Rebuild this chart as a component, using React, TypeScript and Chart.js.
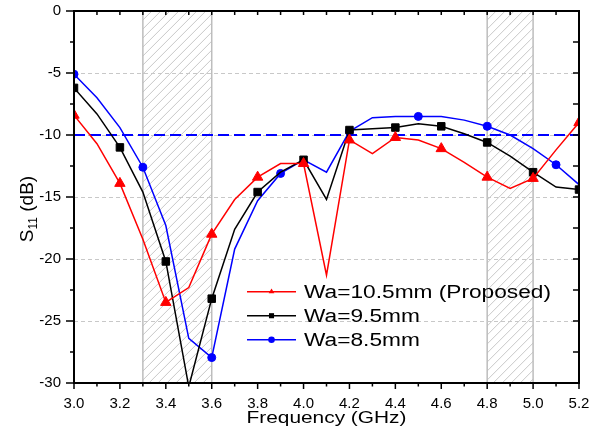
import React, { useEffect, useRef } from "react";
import { Chart, registerables } from "chart.js";

Chart.register(...registerables);

// ---------- data ----------
const freqGHz = [3.0, 3.1, 3.2, 3.3, 3.4, 3.5, 3.6, 3.7, 3.8, 3.9, 4.0, 4.1, 4.2, 4.3, 4.4, 4.5, 4.6, 4.7, 4.8, 4.9, 5.0, 5.1, 5.2];
const s11Wa105 = [-8.4, -10.7, -13.9, -18.4, -23.5, -22.3, -18.0, -15.2, -13.4, -12.3, -12.3, -21.3, -10.4, -11.5, -10.2, -10.4, -11.1, -12.2, -13.4, -14.3, -13.5, -11.2, -9.0];
const s11Wa95 = [-6.2, -8.3, -11.0, -14.6, -20.2, -30.3, -23.2, -17.6, -14.6, -13.0, -12.0, -15.2, -9.6, -9.5, -9.4, -9.1, -9.3, -9.9, -10.6, -11.7, -13.0, -14.2, -14.4];
const s11Wa85 = [-5.1, -7.0, -9.4, -12.6, -17.3, -26.4, -27.95, -19.2, -15.3, -13.1, -12.0, -13.0, -9.7, -8.6, -8.5, -8.5, -8.5, -8.8, -9.3, -10.0, -11.1, -12.4, -14.0];
const seriesLabels = ["Wa=10.5mm (Proposed)", "Wa=9.5mm", "Wa=8.5mm"];
const markerEvery = [2, 2, 3];

const xTickValues = [3.0, 3.2, 3.4, 3.6, 3.8, 4.0, 4.2, 4.4, 4.6, 4.8, 5.0, 5.2];
const yTickValues = [-30, -25, -20, -15, -10, -5, 0];
const xMinorTicks = [3.0, 3.1, 3.2, 3.3, 3.4, 3.5, 3.6, 3.7, 3.8, 3.9, 4.0, 4.1, 4.2, 4.3, 4.4, 4.5, 4.6, 4.7, 4.8, 4.9, 5.0, 5.1, 5.2];
const yMinorTicks = [-30, -27.5, -25, -22.5, -20, -17.5, -15, -12.5, -10, -7.5, -5, -2.5, 0];
const hatchBands = [
  [3.3, 3.6],
  [4.8, 5.0],
];
const refLevel = -10;

// ---------- styles ----------
const COLORS = ["#ff0000", "#000000", "#0000ff"];
const POINT_STYLES = ["triangle", "rect", "circle"];
const POINT_RADII = [6, 5.3, 4];
const FONT = "'Liberation Sans', Arial, sans-serif";

function drawMarker(ctx: CanvasRenderingContext2D, style: string, x: number, y: number, r: number) {
  ctx.beginPath();
  if (style === "triangle") {
    ctx.moveTo(x, y - r);
    ctx.lineTo(x + r * 0.866, y + r * 0.5);
    ctx.lineTo(x - r * 0.866, y + r * 0.5);
    ctx.closePath();
  } else if (style === "rect") {
    const s = r * Math.SQRT1_2;
    ctx.rect(x - s, y - s, 2 * s, 2 * s);
  } else {
    ctx.arc(x, y, r, 0, Math.PI * 2);
  }
  ctx.fill();
}

const decorPlugin = {
  id: "decor",
  beforeDatasetsDraw(chart: any) {
    const { ctx, chartArea: a, scales } = chart;
    const xs = scales.x;
    const ys = scales.y;
    const h = a.bottom - a.top;
    ctx.save();
    for (const [b0, b1] of hatchBands) {
      const x0 = xs.getPixelForValue(b0);
      const x1 = xs.getPixelForValue(b1);
      ctx.save();
      ctx.beginPath();
      ctx.rect(x0, a.top, x1 - x0, h);
      ctx.clip();
      ctx.strokeStyle = "#c8c8c8";
      ctx.lineWidth = 1;
      ctx.beginPath();
      for (let k = x0 - h; k < x1; k += 9) {
        ctx.moveTo(k, a.bottom);
        ctx.lineTo(k + h, a.top);
      }
      ctx.stroke();
      ctx.restore();
      ctx.strokeStyle = "#bdbdbd";
      ctx.lineWidth = 1.5;
      ctx.strokeRect(x0, a.top, x1 - x0, h);
    }
    // horizontal grid
    ctx.strokeStyle = "#c8c8c8";
    ctx.lineWidth = 1;
    ctx.setLineDash([4, 3]);
    for (const v of yTickValues) {
      if (v === ys.min || v === ys.max) continue;
      const y = Math.round(ys.getPixelForValue(v)) + 0.5;
      ctx.beginPath();
      ctx.moveTo(a.left, y);
      ctx.lineTo(a.right, y);
      ctx.stroke();
    }
    // reference line
    ctx.strokeStyle = "#0000ff";
    ctx.lineWidth = 2;
    ctx.setLineDash([11, 5]);
    const yr = ys.getPixelForValue(refLevel);
    ctx.beginPath();
    ctx.moveTo(a.left, yr);
    ctx.lineTo(a.right, yr);
    ctx.stroke();
    ctx.restore();
  },
  afterDraw(chart: any) {
    const { ctx, chartArea: a, scales } = chart;
    const xs = scales.x;
    const ys = scales.y;
    ctx.save();
    ctx.strokeStyle = "#000";
    ctx.lineWidth = 1.5;
    // ticks
    ctx.beginPath();
    for (const v of xMinorTicks) {
      const x = xs.getPixelForValue(v);
      const major = xTickValues.some((t) => Math.abs(t - v) < 1e-6);
      ctx.moveTo(x, a.bottom);
      ctx.lineTo(x, a.bottom + (major ? 6 : 3.5));
      ctx.moveTo(x, a.top);
      ctx.lineTo(x, a.top + 4);
    }
    for (const v of yMinorTicks) {
      const y = ys.getPixelForValue(v);
      const major = yTickValues.some((t) => Math.abs(t - v) < 1e-6);
      ctx.moveTo(a.left, y);
      ctx.lineTo(a.left - (major ? 8 : 4), y);
      ctx.moveTo(a.right, y);
      ctx.lineTo(a.right - 6, y);
    }
    ctx.stroke();
    // frame
    ctx.lineWidth = 2;
    ctx.strokeRect(a.left, a.top, a.right - a.left, a.bottom - a.top);

    // x title
    ctx.fillStyle = "#000";
    ctx.font = `16px ${FONT}`;
    ctx.textBaseline = "alphabetic";
    ctx.textAlign = "left";
    const xt = "Frequency (GHz)";
    const xtw = ctx.measureText(xt).width;
    const xsc = 160 / xtw;
    ctx.save();
    ctx.translate((a.left + a.right) / 2 - 80, a.bottom + 40);
    ctx.scale(xsc, 1);
    ctx.fillText(xt, 0, 0);
    ctx.restore();

    // y title with subscript
    ctx.save();
    ctx.translate(33, (a.top + a.bottom) / 2 + 12);
    ctx.rotate(-Math.PI / 2);
    const big = `19px ${FONT}`;
    const small = `12px ${FONT}`;
    ctx.font = big;
    const wS = ctx.measureText("S").width;
    const wRest = ctx.measureText(" (dB)").width;
    ctx.font = small;
    const w11 = ctx.measureText("11").width;
    const total = wS + w11 + wRest;
    let cx = -total / 2;
    ctx.font = big;
    ctx.fillText("S", cx, 0);
    cx += wS;
    ctx.font = small;
    ctx.fillText("11", cx, 4);
    cx += w11;
    ctx.font = big;
    ctx.fillText(" (dB)", cx, 0);
    ctx.restore();

    // legend
    const lw = a.right - a.left;
    const lh = a.bottom - a.top;
    const lx = a.left + lw * 0.3426;
    const ly0 = a.top + lh * 0.7546;
    const rowH = 24;
    ctx.font = `18px ${FONT}`;
    const lsc = 247 / ctx.measureText(seriesLabels[0]).width;
    chart.data.datasets.forEach((ds: any, i: number) => {
      const y = ly0 + i * rowH;
      ctx.strokeStyle = ds.borderColor;
      ctx.fillStyle = ds.borderColor;
      ctx.lineWidth = 1.5;
      ctx.beginPath();
      ctx.moveTo(lx, y);
      ctx.lineTo(lx + 49, y);
      ctx.stroke();
      drawMarker(ctx, POINT_STYLES[i], lx + 24.5, y, i === 1 ? 3.6 : 3.3);
      ctx.fillStyle = "#000";
      ctx.save();
      ctx.translate(lx + 57, y + 6.5);
      ctx.scale(lsc, 1);
      ctx.fillText(ds.label, 0, 0);
      ctx.restore();
    });
    ctx.restore();
  },
};

function App() {
  const canvasRef = useRef<HTMLCanvasElement | null>(null);

  useEffect(() => {
    const canvas = canvasRef.current;
    if (!canvas) return;
    const series = [s11Wa105, s11Wa95, s11Wa85];
    const datasets = series.map((vals, i) => ({
      label: seriesLabels[i],
      data: freqGHz.map((f, k) => ({ x: f, y: vals[k] })),
      borderColor: COLORS[i],
      backgroundColor: COLORS[i],
      borderWidth: 1.5,
      pointStyle: POINT_STYLES[i],
      pointRadius: (c: any) => (c.dataIndex % markerEvery[i] === 0 ? POINT_RADII[i] : 0),
      pointBorderWidth: 1,
      pointBackgroundColor: COLORS[i],
      pointBorderColor: COLORS[i],
      tension: 0,
      fill: false,
    }));

    const chart = new Chart(canvas, {
      type: "line",
      data: { datasets },
      options: {
        animation: false,
        responsive: false,
        devicePixelRatio: 1,
        layout: { padding: { top: 11, right: 23, left: 0, bottom: 0 } },
        plugins: { legend: { display: false }, tooltip: { enabled: false } },
        scales: {
          x: {
            type: "linear",
            min: 3.0,
            max: 5.2,
            grid: { display: false, drawTicks: false },
            border: { display: false },
            afterBuildTicks: (s: any) => {
              s.ticks = xTickValues.map((v) => ({ value: v }));
            },
            afterFit: (s: any) => {
              s.height = 49;
              s.paddingLeft = 0;
              s.paddingRight = 0;
            },
            ticks: {
              color: "#000",
              font: { family: FONT, size: 15 },
              padding: 12,
              maxRotation: 0,
              autoSkip: false,
              callback: (v: any) => Number(v).toFixed(1),
            },
          },
          y: {
            type: "linear",
            min: -30,
            max: 0,
            grid: { display: false, drawTicks: false },
            border: { display: false },
            afterBuildTicks: (s: any) => {
              s.ticks = yTickValues.map((v) => ({ value: v }));
            },
            afterFit: (s: any) => {
              s.width = 74;
              s.paddingTop = 0;
              s.paddingBottom = 0;
            },
            ticks: {
              color: "#000",
              font: { family: FONT, size: 15 },
              padding: 13,
              autoSkip: false,
              callback: (v: any) => String(v),
            },
          },
        },
      },
      plugins: [decorPlugin],
    } as any);

    return () => chart.destroy();
  }, []);

  return (
    <div style={{ position: "fixed", left: 0, top: 0, width: 602, height: 432, background: "#fff" }}>
      <canvas ref={canvasRef} width={602} height={432} style={{ display: "block" }} />
    </div>
  );
}

export default App;
